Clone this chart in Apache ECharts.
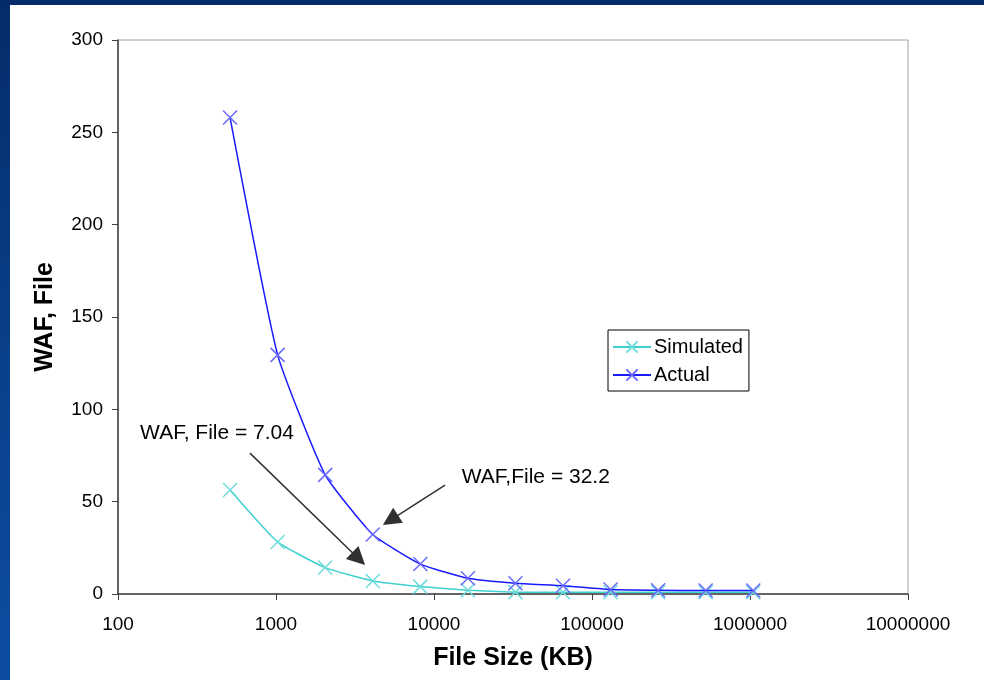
<!DOCTYPE html>
<html>
<head>
<meta charset="utf-8">
<script src="https://cdn.jsdelivr.net/npm/echarts@6/dist/echarts.min.js"></script>
<style>
  html, body { margin: 0; padding: 0; }
  body {
    width: 984px; height: 680px; overflow: hidden; position: relative;
    background: linear-gradient(180deg, #042b69 0%, #0a3f88 50%, #0c4da3 100%);
  }
  #sheet { position: absolute; left: 10px; top: 5px; right: 0; bottom: 0; background: #ffffff; }
  #chart { position: absolute; left: 0; top: 0; width: 984px; height: 680px; }
</style>
</head>
<body>
<div id="sheet"></div>
<div id="chart"></div>
<script>
// File sizes in KB (powers of two)
const fileSizes = [512, 1024, 2048, 4096, 8192, 16384, 32768, 65536, 131072, 262144, 524288, 1048576];
// Write amplification factor per file
const simulated = [56.3, 28.2, 14.3, 7.04, 4.0, 2.0, 1.0, 0.9, 0.9, 0.9, 0.9, 0.9];
const actual = [258, 129.5, 64.5, 32.2, 16.2, 8.5, 5.8, 4.5, 2.4, 2.0, 1.9, 1.9];

// Callout texts and their anchors / arrows in data coordinates
const calloutTexts = ['WAF, File = 7.04', 'WAF,File = 32.2'];
const calloutAnchors = [[138, 87], [15000, 63.3]];
const arrowStarts = [[684, 76.3], [11750, 59]];
const arrowEnds = [[3335, 19.1], [5300, 40.0]];

const xMark = 'path://M0,0L10,10M10,0L0,10';
const font = '"Liberation Sans", Arial, sans-serif';

const pair = (xs, ys) => xs.map((x, i) => [x, ys[i]]);

const chart = echarts.init(document.getElementById('chart'), null, { renderer: 'canvas' });

chart.setOption({
  animation: false,
  backgroundColor: 'transparent',
  textStyle: { fontFamily: font },
  grid: { left: 118, right: 76, top: 40, bottom: 86, show: true, borderColor: '#a0a0a0', borderWidth: 1 },
  legend: {
    orient: 'vertical',
    left: 608, top: 330,
    padding: [7, 6, 6, 4],
    itemGap: 8,
    itemWidth: 38, itemHeight: 14,
    backgroundColor: '#ffffff',
    borderColor: '#000000', borderWidth: 1,
    textStyle: { fontSize: 20, color: '#000', fontFamily: font, padding: [0, 0, 0, -2] },
    data: ['Simulated', 'Actual']
  },
  xAxis: {
    type: 'log',
    logBase: 10,
    min: 100, max: 10000000,
    name: 'File Size (KB)',
    nameLocation: 'middle',
    nameGap: 52,
    nameTextStyle: { fontSize: 25, fontWeight: 'bold', color: '#000', fontFamily: font },
    axisLine: { lineStyle: { color: '#404040', width: 1.5 } },
    axisTick: { show: true, length: 6, inside: false, lineStyle: { color: '#404040' } },
    axisLabel: { fontSize: 19, color: '#000', margin: 21, formatter: v => String(Math.round(v)) },
    splitLine: { show: false },
    minorTick: { show: false }
  },
  yAxis: {
    type: 'value',
    min: 0, max: 300, interval: 50,
    name: 'WAF, File',
    nameLocation: 'middle',
    nameGap: 60,
    nameRotate: 90,
    nameTextStyle: { fontSize: 25, fontWeight: 'bold', color: '#000', fontFamily: font },
    axisLine: { show: true, lineStyle: { color: '#404040', width: 1.5 } },
    axisTick: { show: true, length: 6, lineStyle: { color: '#404040' } },
    axisLabel: { fontSize: 19, color: '#000', margin: 15 },
    splitLine: { show: false }
  },
  series: [
    {
      name: 'Simulated',
      type: 'line',
      data: pair(fileSizes, simulated),
      smooth: 0.15,
      symbol: xMark,
      symbolSize: 14,
      showAllSymbol: true,
      lineStyle: { color: '#3fd0d0', width: 1.5 },
      itemStyle: { color: 'rgba(0,0,0,0)', borderColor: '#6fdcdc', borderWidth: 1.5 },
      z: 2,
      markLine: {
        silent: true,
        symbol: ['none', 'triangle'],
        symbolSize: 18,
        lineStyle: { color: '#303030', width: 1.5, type: 'solid' },
        label: { show: false },
        data: arrowStarts.map((s, i) => [
          { coord: s, itemStyle: { color: '#000' } },
          { coord: arrowEnds[i], itemStyle: { color: '#000' } }
        ])
      },
      markPoint: {
        silent: true,
        symbol: 'circle',
        symbolSize: 0,
        label: {
          show: true,
          position: 'right',
          distance: 0,
          color: '#000',
          fontSize: 21,
          fontFamily: font,
          formatter: p => p.name
        },
        data: calloutTexts.map((t, i) => ({ name: t, coord: calloutAnchors[i] }))
      }
    },
    {
      name: 'Actual',
      type: 'line',
      data: pair(fileSizes, actual),
      smooth: 0.15,
      symbol: xMark,
      symbolSize: 14,
      showAllSymbol: true,
      lineStyle: { color: '#1a1aff', width: 1.5 },
      itemStyle: { color: 'rgba(0,0,0,0)', borderColor: '#6a6aff', borderWidth: 1.5 },
      z: 3
    }
  ]
});
</script>
</body>
</html>
